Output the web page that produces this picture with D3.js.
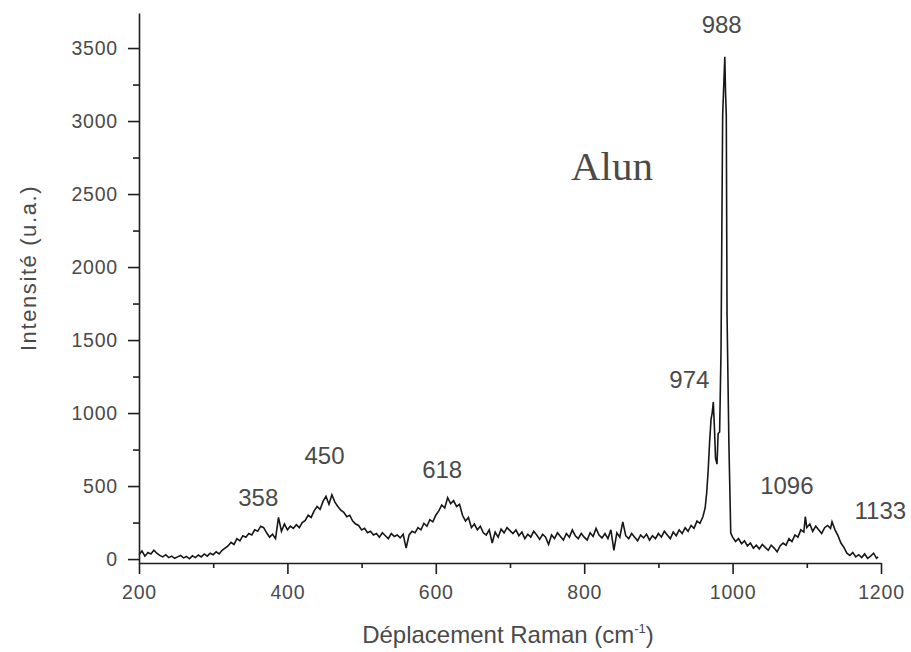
<!DOCTYPE html>
<html>
<head>
<meta charset="utf-8">
<script src="https://cdn.jsdelivr.net/npm/d3@7"></script>
<style>
  html, body { margin: 0; padding: 0; background: #fff; }
  svg { display: block; }
  text { font-family: "Liberation Sans", Arial, sans-serif; }
</style>
</head>
<body>
<svg id="chart" width="911" height="652"></svg>
<script>
// ---- data ----
const ramanShift = [
  200,204,208,212,216,220,224,228,232,236,240,244,248,252,256,260,264,268,272,276,
  280,284,288,292,296,300,304,308,312,316,320,324,328,332,336,340,344,348,352,356,
  360,364,368,372,376,380,384,388,392,396,400,404,408,412,416,420,424,428,432,436,
  440,444,448,452,456,460,464,468,472,476,480,484,488,492,496,500,504,508,512,516,
  520,524,528,532,536,540,544,548,552,556,560,564,568,572,576,580,584,588,592,596,
  600,604,608,612,616,620,624,628,632,636,640,644,648,652,656,660,664,668,672,676,
  680,684,688,692,696,700,704,708,712,716,720,724,728,732,736,740,744,748,752,756,
  760,764,768,772,776,780,784,788,792,796,800,804,808,812,816,820,824,828,832,836,
  840,844,848,852,856,860,864,868,872,876,880,884,888,892,896,900,904,908,912,916,
  920,924,928,932,936,940,944,948,952,956,
  960,963,965,967,969,971,972.5,974,975.5,977,979,980.5,982.5,984.4,986.6,989.5,990.5,991.5,992.5,995,997.5,
  1000,1004,1008,1012,1016,1020,1024,1028,1032,1036,1040,1044,1048,1052,1056,1060,1064,1068,1072,1076,
  1080,1084,1088,1092,1096,1098,1100,1104,1108,1112,1116,1120,1124,1128,1132,1134,1138,1142,1146,1150,
  1154,1158,1162,1166,1170,1174,1178,1182,1186,1190,1194,1196
];
const intensity = [
  30,55,20,45,35,60,40,25,15,30,10,20,5,15,25,8,18,2,22,10,
  28,15,35,20,40,30,50,35,60,75,90,115,100,140,125,160,150,175,165,200,
  190,225,215,180,150,170,140,285,190,240,200,225,210,235,215,250,265,300,285,330,
  360,340,395,430,375,440,390,360,335,320,290,300,260,240,230,200,210,180,190,165,
  175,150,180,160,140,175,155,165,145,170,75,165,190,180,215,200,245,225,270,255,
  300,330,370,350,420,380,400,360,375,300,260,285,215,240,200,225,180,165,200,110,
  185,150,205,180,215,195,175,200,160,185,140,170,150,190,165,135,170,150,100,165,
  140,180,155,130,175,150,200,160,140,175,150,130,180,155,210,165,145,175,140,200,
  60,180,150,255,160,140,175,150,125,165,145,170,130,160,140,175,150,190,165,140,
  185,160,200,175,215,190,230,210,260,245,
  290,350,450,600,800,960,1000,1075,900,690,650,860,870,1430,3040,3440,3190,3040,1680,795,178,
  150,120,140,105,125,90,110,75,95,70,100,80,60,95,75,50,90,110,95,140,
  120,165,150,200,185,290,215,240,190,225,200,175,215,230,210,255,200,160,110,80,
  40,25,45,15,30,10,35,5,20,40,5,15
];
const xTickValues = [200, 400, 600, 800, 1000, 1200];
const xMinorTickValues = [300, 500, 700, 900, 1100];
const yTickValues = [0, 500, 1000, 1500, 2000, 2500, 3000, 3500];
const yMinorTickValues = [250, 750, 1250, 1750, 2250, 2750, 3250];
const peakShifts = [358, 450, 618, 974, 988, 1096, 1133];
const sampleName = "Alun";
const xTitle = "Déplacement Raman (cm";
const yTitle = "Intensité (u.a.)";

// ---- layout (positions of the annotations, not data) ----
const peakLabelLayout = [
  { dx: 2, y: 506 },
  { dx: 0, y: 464 },
  { dx: -7, y: 478 },
  { dx: -24, y: 388 },
  { dx: -2, y: 33 },
  { dx: -17, y: 494 },
  { dx: 49, y: 519 }
];

const svg = d3.select("#chart");
const x = d3.scaleLinear().domain([200, 1200]).range([139, 881]);
const y = d3.scaleLinear().domain([-27, 3740]).range([563, 13]);

const axisColor = "#1e1e1e";
const textColor = "#4a4a4a";

// spectrum line
const pts = ramanShift.map((s, i) => [s, intensity[i]]);
svg.append("path")
  .datum(pts)
  .attr("fill", "none")
  .attr("stroke", "#161616")
  .attr("stroke-width", 1.6)
  .attr("stroke-linejoin", "miter")
  .attr("d", d3.line().x(d => x(d[0])).y(d => y(d[1])));

// x axis
const gx = svg.append("g").attr("transform", `translate(0,${y.range()[0]})`);
gx.call(d3.axisBottom(x).tickValues(xTickValues).tickFormat(d3.format("d")).tickSize(11).tickPadding(11).tickSizeOuter(0));
const gxm = svg.append("g").attr("transform", `translate(0,${y.range()[0]})`);
gxm.call(d3.axisBottom(x).tickValues(xMinorTickValues).tickSize(5).tickFormat("").tickSizeOuter(0));
gxm.select(".domain").remove();

// y axis
const gy = svg.append("g").attr("transform", `translate(${x.range()[0]},0)`);
gy.call(d3.axisLeft(y).tickValues(yTickValues).tickFormat(d3.format("d")).tickSize(11).tickPadding(10).tickSizeOuter(0));
const gym = svg.append("g").attr("transform", `translate(${x.range()[0]},0)`);
gym.call(d3.axisLeft(y).tickValues(yMinorTickValues).tickSize(6).tickFormat("").tickSizeOuter(0));
gym.select(".domain").remove();

svg.selectAll(".domain, .tick line").attr("stroke", axisColor).attr("stroke-width", 1.6);
svg.selectAll(".tick text")
  .attr("fill", textColor)
  .style("font-size", "19.5px")
  .style("letter-spacing", "0.8px")
  .style("font-family", "'Liberation Sans', Arial, sans-serif");

// axis titles
const xt = svg.append("text")
  .attr("x", 508).attr("y", 643)
  .attr("text-anchor", "middle")
  .attr("fill", textColor)
  .style("font-size", "24px");
xt.append("tspan").text(xTitle);
xt.append("tspan").attr("dy", -10).style("font-size", "13px").text("-1");
xt.append("tspan").attr("dy", 10).text(")");

svg.append("text")
  .attr("transform", "translate(36,268) rotate(-90)")
  .attr("text-anchor", "middle")
  .attr("fill", textColor)
  .style("font-size", "22px")
  .style("letter-spacing", "1.6px")
  .text(yTitle);

// sample name
svg.append("text")
  .attr("x", 612).attr("y", 180)
  .attr("text-anchor", "middle")
  .attr("fill", textColor)
  .style("font-family", "'Liberation Serif', 'Times New Roman', serif")
  .style("font-size", "41px")
  .text(sampleName);

// peak labels
svg.append("g").selectAll("text")
  .data(peakShifts)
  .join("text")
  .attr("x", (d, i) => x(d) + peakLabelLayout[i].dx)
  .attr("y", (d, i) => peakLabelLayout[i].y)
  .attr("text-anchor", "middle")
  .attr("fill", textColor)
  .style("font-size", "24px")
  .text(d => d);
</script>
</body>
</html>
